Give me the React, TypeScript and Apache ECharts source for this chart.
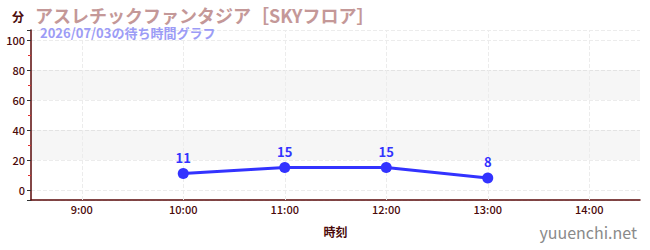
import React, { useEffect, useRef } from "react";
import * as echarts from "echarts";

const categories = ["9:00", "10:00", "11:00", "12:00", "13:00", "14:00"];
const waitTimes: (number | null)[] = [null, 11, 15, 15, 8, null];
const bandRanges: [number, number][] = [[20, 40], [60, 80]];
const titleText = "アスレチックファンタジア［SKYフロア］";
const subtitleText = "2026/07/03の待ち時間グラフ";
const yName = "分";
const xName = "時刻";
const watermark = "yuuenchi.net";

const FONT = "'Noto Sans CJK JP', 'Noto Sans', sans-serif";
const AXIS_COLOR = "#5a0a0a";
const LABEL_COLOR = "#4a0a0a";

export default function App() {
  const ref = useRef<HTMLDivElement>(null);
  useEffect(() => {
    if (!ref.current) return;
    document.body.style.margin = "0";
    const chart = echarts.init(ref.current, undefined, { renderer: "svg" });
    chart.setOption({
      animation: false,
      textStyle: { fontFamily: FONT },
      grid: { left: 31, right: 10, top: 30, bottom: 50, containLabel: false },
      title: [
        {
          text: titleText,
          left: 30,
          top: 0,
          padding: [6, 5, 0, 5],
          textStyle: { fontFamily: FONT, fontSize: 18, lineHeight: 18, fontWeight: "bold", color: "#c49898" },
        },
        {
          text: subtitleText,
          left: 35,
          top: 25,
          padding: [0, 5, 0, 5],
          textStyle: { fontFamily: FONT, fontSize: 13, lineHeight: 15, fontWeight: "bold", color: "#9c9cf6" },
        },
      ],
      graphic: [
        {
          type: "text",
          left: 12,
          top: 10,
          style: { text: yName, font: `bold 12px ${FONT}`, fill: LABEL_COLOR },
        },
        {
          type: "text",
          right: 13,
          top: 224,
          style: { text: watermark, font: `16px ${FONT}`, fill: "#8a8a8a" },
        },
      ],
      xAxis: {
        type: "category",
        data: categories,
        boundaryGap: true,
        name: xName,
        nameLocation: "middle",
        nameGap: 25,
        nameTextStyle: { fontFamily: FONT, fontSize: 12, fontWeight: "bold", color: LABEL_COLOR },
        axisLine: { onZero: false, lineStyle: { color: AXIS_COLOR, width: 1.5 } },
        axisTick: { alignWithLabel: true, inside: true, length: 4, lineStyle: { color: "#888", width: 1.5 } },
        axisLabel: { fontFamily: FONT, fontSize: 11, fontWeight: 500, color: LABEL_COLOR, margin: 3 },
        splitLine: { show: false },
      },
      yAxis: {
        type: "value",
        min: -6.67,
        max: 106.67,
        splitNumber: 5,
        axisLine: { show: true, lineStyle: { color: AXIS_COLOR, width: 1.5 } },
        axisTick: { show: true, length: 4, lineStyle: { color: "#333" } },
        minorTick: { show: true, splitNumber: 2, length: 3, lineStyle: { color: "#e03030" } },
        axisLabel: {
          fontFamily: FONT,
          fontSize: 11,
          fontWeight: 500,
          color: LABEL_COLOR,
          margin: 6,
          showMinLabel: false,
          showMaxLabel: false,
        },
        splitLine: { show: true, lineStyle: { color: "#ececec", type: "dashed" } },
      },
      series: [
        {
          type: "line",
          data: [],
          silent: true,
          z: 1,
          markArea: {
            silent: true,
            itemStyle: { color: "rgba(0,0,0,0.035)" },
            data: bandRanges.map(([a, b]) => [{ yAxis: a }, { yAxis: b }]),
          },
          markLine: {
            silent: true,
            symbol: "none",
            label: { show: false },
            lineStyle: { color: "#ececec", type: "dashed", width: 1 },
            data: categories.map((c) => ({ xAxis: c })),
          },
        },
        {
          type: "line",
          data: waitTimes,
          symbol: "circle",
          symbolSize: 11,
          itemStyle: { color: "#3333ff" },
          lineStyle: { color: "#3333ff", width: 3 },
          label: {
            show: true,
            position: "top",
            distance: 4,
            fontFamily: FONT,
            fontSize: 13,
            fontWeight: "bold",
            color: "#3333ff",
          },
          z: 5,
        },
      ],
    });
    return () => chart.dispose();
  }, []);
  return <div ref={ref} style={{ width: 650, height: 250 }} />;
}
